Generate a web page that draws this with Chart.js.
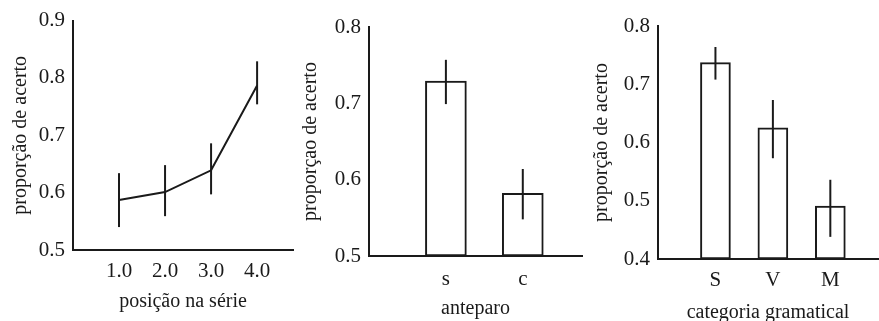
<!DOCTYPE html>
<html>
<head>
<meta charset="utf-8">
<script src="https://cdn.jsdelivr.net/npm/chart.js@4"></script>
<style>
  html, body { margin: 0; padding: 0; background: #fff; }
  body { width: 879px; height: 321px; position: relative; overflow: hidden; }
  .panel { position: absolute; top: 0; height: 321px; }
</style>
</head>
<body>
<div class="panel" style="left:0;width:295px"><canvas id="chartPos"></canvas></div>
<div class="panel" style="left:295px;width:295px"><canvas id="chartAnt"></canvas></div>
<div class="panel" style="left:590px;width:289px"><canvas id="chartCat"></canvas></div>
<script>
// posição na série
const posLabels = ['1.0', '2.0', '3.0', '4.0'];
const posX = [1, 2, 3, 4];
const posMean = [0.587, 0.601, 0.639, 0.787];
const posLow = [0.540, 0.559, 0.597, 0.754];
const posHigh = [0.634, 0.648, 0.686, 0.829];
const posTicks = [0.5, 0.6, 0.7, 0.8, 0.9];

// anteparo
const antLabels = ['s', 'c'];
const antX = [1, 2];
const antMean = [0.729, 0.582];
const antLow = [0.699, 0.548];
const antHigh = [0.757, 0.614];
const antTicks = [0.5, 0.6, 0.7, 0.8];

// categoria gramatical
const catLabels = ['S', 'V', 'M'];
const catX = [1, 2, 3];
const catMean = [0.737, 0.625, 0.491];
const catLow = [0.708, 0.573, 0.438];
const catHigh = [0.764, 0.673, 0.536];
const catTicks = [0.4, 0.5, 0.6, 0.7, 0.8];

const ink = '#1a1a1a';
const serif = "'Liberation Serif', 'DejaVu Serif', serif";

// draws the vertical error bars from the low/high arrays
const errorBars = {
    id: 'errorBars',
    afterDatasetsDraw(chart, args, opts) {
        const ctx = chart.ctx;
        const xs = chart.scales.x, ys = chart.scales.y;
        ctx.save();
        ctx.strokeStyle = ink;
        ctx.lineWidth = 2;
        opts.x.forEach(function(v, i) {
            const px = xs.getPixelForValue(v);
            ctx.beginPath();
            ctx.moveTo(px, ys.getPixelForValue(opts.low[i]));
            ctx.lineTo(px, ys.getPixelForValue(opts.high[i]));
            ctx.stroke();
        });
        ctx.restore();
    }
};

function makePanel(id, cfg) {
    const ctx = document.getElementById(id).getContext('2d');
    const points = cfg.x.map((v, i) => ({ x: v, y: cfg.mean[i] }));
    const dataset = cfg.type === 'line'
        ? { data: points, borderColor: ink, borderWidth: 2, pointRadius: 0, tension: 0 }
        : { data: points, backgroundColor: '#fff', borderColor: ink, borderWidth: 2,
            barThickness: cfg.barWidth, base: cfg.yTicks[0], borderSkipped: false };

    new Chart(ctx, {
        type: cfg.type,
        data: { datasets: [dataset] },
        plugins: [errorBars],
        options: {
            responsive: true,
            maintainAspectRatio: false,
            animation: false,
            layout: { padding: cfg.padding },
            plugins: {
                legend: { display: false },
                tooltip: { enabled: false },
                errorBars: { x: cfg.x, low: cfg.low, high: cfg.high }
            },
            scales: {
                x: {
                    type: 'linear',
                    min: 0,
                    max: cfg.xMax,
                    offset: false,
                    grid: { display: false, drawTicks: false, offset: false },
                    border: { color: ink, width: 2 },
                    afterBuildTicks: function(s) { s.ticks = cfg.x.map(v => ({ value: v })); },
                    afterFit: function(s) { s.height = cfg.xHeight; },
                    ticks: {
                        color: ink,
                        font: { family: serif, size: 21 },
                        padding: cfg.xTickPad,
                        maxRotation: 0,
                        autoSkip: false,
                        callback: function(v) { return cfg.labels[cfg.x.indexOf(v)]; }
                    },
                    title: {
                        display: true,
                        text: cfg.xTitle,
                        color: ink,
                        font: { family: serif, size: 20, lineHeight: 1 },
                        padding: { top: 0, bottom: cfg.xTitlePad }
                    }
                },
                y: {
                    min: cfg.yTicks[0],
                    max: cfg.yTicks[cfg.yTicks.length - 1],
                    grid: { display: false, drawTicks: false },
                    border: { color: ink, width: 2 },
                    afterBuildTicks: function(s) { s.ticks = cfg.yTicks.map(v => ({ value: v })); },
                    afterFit: function(s) { s.width = cfg.yWidth; },
                    ticks: {
                        color: ink,
                        font: { family: serif, size: 21 },
                        padding: 8,
                        callback: function(v) { return v.toFixed(1); }
                    },
                    title: {
                        display: true,
                        text: cfg.yTitle,
                        color: ink,
                        font: { family: serif, size: 20 },
                        padding: { top: cfg.yTitlePad, bottom: 0 }
                    }
                }
            }
        }
    });
}

makePanel('chartPos', {
    type: 'line', x: posX, labels: posLabels, mean: posMean, low: posLow, high: posHigh,
    yTicks: posTicks, xMax: 4.78, yWidth: 73, xHeight: 71,
    padding: { top: 19, right: 2, bottom: 0, left: 0 },
    xTitle: 'posição na série', yTitle: 'proporção de acerto',
    xTickPad: 9, xTitlePad: 9, yTitlePad: 9
});

makePanel('chartAnt', {
    type: 'bar', x: antX, labels: antLabels, mean: antMean, low: antLow, high: antHigh,
    yTicks: antTicks, xMax: 2.77, yWidth: 74, xHeight: 65, barWidth: 41,
    padding: { top: 27, right: 8, bottom: 0, left: 0 },
    xTitle: 'anteparo', yTitle: 'proporçao de acerto',
    xTickPad: 11, xTitlePad: 2, yTitlePad: 4
});

makePanel('chartCat', {
    type: 'bar', x: catX, labels: catLabels, mean: catMean, low: catLow, high: catHigh,
    yTicks: catTicks, xMax: 3.83, yWidth: 68, xHeight: 62, barWidth: 30,
    padding: { top: 26, right: 1, bottom: 0, left: 0 },
    xTitle: 'categoria gramatical', yTitle: 'proporção de acerto',
    xTickPad: 9, xTitlePad: -2, yTitlePad: 0
});
</script>
</body>
</html>
